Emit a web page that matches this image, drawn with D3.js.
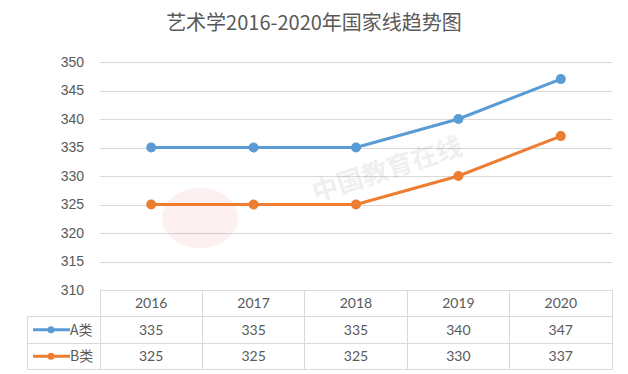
<!DOCTYPE html>
<html>
<head>
<meta charset="utf-8">
<script src="https://cdn.jsdelivr.net/npm/d3@7"></script>
<style>
  body { margin: 0; background: #fff; }
  svg { display: block; font-family: Lato, 'Noto Sans CJK SC', sans-serif; }
</style>
</head>
<body>
<svg id="svg" width="628" height="374"></svg>
<script>
const width = 628;
const height = 374;
const textColor = '#595959';
const gridColor = '#d9d9d9';

const years = ['2016', '2017', '2018', '2019', '2020'];
const seriesNames = ['A类', 'B类'];
const seriesA = [335, 335, 335, 340, 347];
const seriesB = [325, 325, 325, 330, 337];
const yTicks = [310, 315, 320, 325, 330, 335, 340, 345, 350];
const colors = ['#5b9bd5', '#ed7d31'];

const plot = { left: 100, right: 612, top: 62, bottom: 290 };
const rowH = 26.5;
const legendLeft = 27;

const series = [seriesA, seriesB];
const svg = d3.select('#svg');

const xScale = d3.scaleBand()
	.domain(years)
	.range([plot.left, plot.right]);

const yScale = d3.scaleLinear()
	.domain([310, 350])
	.range([plot.bottom, plot.top]);

// title
svg.append('text')
	.attr('x', width / 2)
	.attr('y', 30)
	.attr('text-anchor', 'middle')
	.attr('font-family', "'Noto Sans CJK SC', sans-serif")
	.attr('font-size', 20)
	.attr('fill', textColor)
	.text('艺术学2016-2020年国家线趋势图');

// grid + y axis
const yAxis = d3.axisLeft(yScale)
	.tickValues(yTicks)
	.tickSize(-(plot.right - plot.left))
	.tickPadding(16);

const yg = svg.append('g')
	.attr('transform', 'translate(' + plot.left + ',0)')
	.call(yAxis);
yg.select('.domain').remove();
yg.selectAll('.tick line')
	.attr('stroke', gridColor)
	.attr('shape-rendering', 'crispedges');
yg.selectAll('.tick text')
	.attr('fill', textColor)
	.attr('font-size', 14);
yg.selectAll('.tick').filter(d => d === 310).select('line').remove();

// watermark
svg.append('text')
	.attr('x', 390)
	.attr('y', 178)
	.attr('text-anchor', 'middle')
	.attr('transform', 'rotate(-18,390,178)')
	.attr('font-family', "'Noto Sans CJK SC', sans-serif")
	.attr('font-size', 26)
	.attr('font-weight', 'bold')
	.attr('fill', '#000')
	.attr('opacity', 0.06)
	.text('中国教育在线');
svg.append('ellipse')
	.attr('cx', 200)
	.attr('cy', 218)
	.attr('rx', 38)
	.attr('ry', 30)
	.attr('fill', '#e03030')
	.attr('opacity', 0.07);

// lines
const line = d3.line()
	.x((d, i) => xScale(years[i]) + xScale.bandwidth() / 2)
	.y(d => yScale(d));

series.forEach((vals, s) => {
	svg.append('path')
		.attr('d', line(vals))
		.attr('fill', 'none')
		.attr('stroke', colors[s])
		.attr('stroke-width', 3)
		.attr('stroke-linejoin', 'round');
	svg.selectAll(null)
		.data(vals)
		.enter()
		.append('circle')
		.attr('cx', (d, i) => xScale(years[i]) + xScale.bandwidth() / 2)
		.attr('cy', d => yScale(d))
		.attr('r', 5)
		.attr('fill', colors[s]);
});

// data table
const table = svg.append('g').attr('shape-rendering', 'crispedges');
const tableBottom = plot.bottom + rowH * 3;

// horizontal borders
[0, 1, 2, 3].forEach(r => {
	table.append('line')
		.attr('x1', r === 0 ? plot.left : legendLeft)
		.attr('x2', plot.right)
		.attr('y1', plot.bottom + r * rowH)
		.attr('y2', plot.bottom + r * rowH)
		.attr('stroke', gridColor);
});
// vertical borders
table.append('line')
	.attr('x1', legendLeft).attr('x2', legendLeft)
	.attr('y1', plot.bottom + rowH).attr('y2', tableBottom)
	.attr('stroke', gridColor);
years.concat(['end']).forEach((y, i) => {
	const x = plot.left + i * xScale.bandwidth();
	table.append('line')
		.attr('x1', x).attr('x2', x)
		.attr('y1', plot.bottom).attr('y2', tableBottom)
		.attr('stroke', gridColor);
});

// header
table.selectAll(null)
	.data(years)
	.enter()
	.append('text')
	.attr('x', d => xScale(d) + xScale.bandwidth() / 2)
	.attr('y', plot.bottom + rowH / 2 + 5)
	.attr('text-anchor', 'middle')
	.attr('font-size', 14)
	.attr('fill', textColor)
	.text(d => d);

series.forEach((vals, s) => {
	const cy = plot.bottom + rowH * (s + 1) + rowH / 2;
	table.selectAll(null)
		.data(vals)
		.enter()
		.append('text')
		.attr('x', (d, i) => xScale(years[i]) + xScale.bandwidth() / 2)
		.attr('y', cy + 5)
		.attr('text-anchor', 'middle')
		.attr('font-size', 14)
		.attr('fill', textColor)
		.text(d => d);
	// legend key
	svg.append('line')
		.attr('x1', 33).attr('x2', 70)
		.attr('y1', cy).attr('y2', cy)
		.attr('stroke', colors[s])
		.attr('stroke-width', 3);
	svg.append('circle')
		.attr('cx', 51).attr('cy', cy).attr('r', 3.5)
		.attr('fill', colors[s]);
	svg.append('text')
		.attr('x', 70)
		.attr('y', cy + 5)
		.attr('font-family', "'Noto Sans CJK SC', sans-serif")
		.attr('font-size', 14)
		.attr('fill', textColor)
		.text(seriesNames[s]);
});
</script>
</body>
</html>
